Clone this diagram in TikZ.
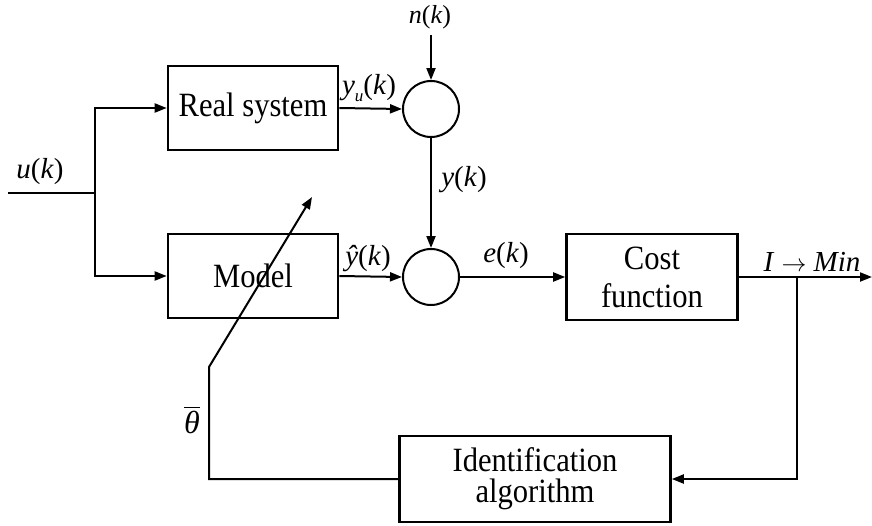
\documentclass[tikz,border=0pt]{standalone}
\usepackage{amsmath}
\usepackage{fontspec}
\setmainfont{Liberation Serif}
\newfontfamily\boxfont{Liberation Serif}[FakeStretch=0.9]
\usetikzlibrary{arrows.meta}
\begin{document}
\begin{tikzpicture}[x=1pt,y=-1pt,
  box/.style={draw, line width=2.6pt, align=center, inner sep=0pt,
    font=\boxfont\fontsize{34}{31}\selectfont},
  sum/.style={draw, circle, line width=2pt, minimum size=56pt, inner sep=0pt},
  conn/.style={line width=2pt},
  arr/.style={conn, -{Triangle[length=12pt,width=9pt]}},
  lbl/.style={font=\fontsize{29}{30}\selectfont, inner sep=0pt}]
\useasboundingbox (0,0) rectangle (872,525);
% blocks
\node[box, minimum width=170pt, minimum height=84pt] (rs) at (253,108) {Real system};
\node[box, minimum width=170pt, minimum height=84pt] (model) at (253,276) {Model};
\node[box, minimum width=171pt, minimum height=86pt, font=\boxfont\fontsize{34}{38}\selectfont] (cost) at (652,277) {Cost\\function};
\node[box, minimum width=271pt, minimum height=86pt] (ident) at (535,479) {Identification\\algorithm};
\node[sum] (s1) at (431,109) {};
\node[sum] (s2) at (431,277) {};
% coordinates
\coordinate (in) at (8,193);
\coordinate (br) at (95,193);
\coordinate (nk) at (431,35);
\coordinate (out) at (872,277);
\coordinate (br2) at (797,277);
\coordinate (tl) at (209,367);
\coordinate (tip) at (312,197);
% connectors
\draw[conn] (in) -- (br);
\draw[arr] (br) |- (rs.west);
\draw[arr] (br) |- (model.west);
\draw[arr] (rs.east) -- (s1.west);
\draw[arr] (nk) -- (s1.north);
\draw[arr] (s1.south) -- (s2.north);
\draw[arr] (model.east) -- (s2.west);
\draw[arr] (s2.east) -- (cost.west);
\draw[arr] (cost.east) -- (out);
\draw[arr] (br2) |- (ident.east);
\draw[arr] (ident.west) -| (tl) -- (tip);
% labels
\node[lbl, font=\fontsize{26}{27}\selectfont] (lnk) at (430,17) {\textit{n}(\textit{k})};
\node[lbl] (lyu) at (369,88) {\textit{y}\raisebox{-7pt}{\fontsize{17}{17}\selectfont\textit{u}}(\textit{k})};
\node[lbl] (ly) at (464,180) {\textit{y}(\textit{k})};
\node[lbl] (lyh) at (368,259) {\textit{ŷ}(\textit{k})};
\node[lbl] (le) at (506,256) {\textit{e}(\textit{k})};
\node[lbl] (lmin) at (812,262) {\textit{I} $\rightarrow$ \textit{Min}};
\node[lbl] (lu) at (40,172) {\textit{u}(\textit{k})};
\node[lbl, font=\fontsize{32}{32}\selectfont] (lth) at (192,420) {$\overline{\text{\itshape θ}}$};
\end{tikzpicture}
\end{document}
